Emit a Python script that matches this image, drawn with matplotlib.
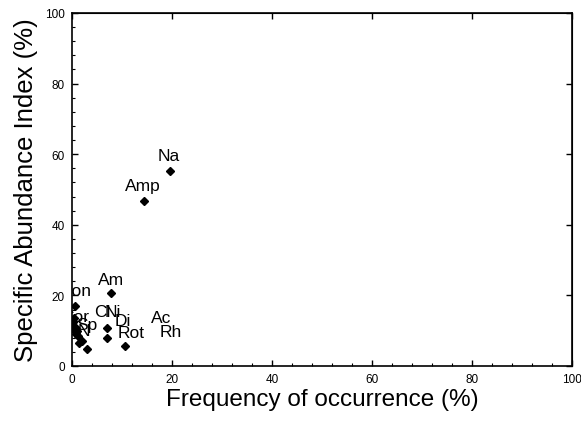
import matplotlib
matplotlib.use("Agg")
import matplotlib.pyplot as plt
from matplotlib.ticker import MultipleLocator

plt.rcParams['font.family'] = ['Liberation Sans', 'DejaVu Sans']

# Marker data (frequency of occurrence %, specific abundance index %)
freq = [19.6, 14.3, 7.8, 0.5, 6.9, 6.9, 10.6, 2.9, 2.0, 1.4,
        0.1, 0.6, 1.0, 0.8, 0.2, 1.2, 0.4]
abund = [55.3, 46.8, 20.6, 17.0, 10.7, 7.9, 5.7, 4.7, 7.1, 6.5,
         12.5, 11.0, 9.9, 9.1, 10.5, 8.4, 13.5]

# Labels and where they sit (data coordinates, baseline)
labels = ['Na', 'Amp', 'Am', 'Con', 'Cor', 'Sp', 'N', 'Cl', 'Ni', 'Di',
          'Rot', 'Ac', 'Rh']
label_x = [19.4, 14.1, 7.9, 0.6, 0.6, 3.0, 2.4, 6.1, 8.1, 10.1,
           11.8, 17.8, 19.8]
label_y = [58.4, 49.9, 23.2, 20.1, 12.7, 10.5, 8.8, 14.3, 14.3, 11.5,
           8.1, 12.4, 8.6]

xticks = [0, 20, 40, 60, 80, 100]
yticks = [0, 20, 40, 60, 80, 100]

fig = plt.figure(figsize=(5.81, 4.27), dpi=100)
ax = fig.add_axes([72/581, 60/427, 500/581, 353/427])

ax.plot(freq, abund, linestyle='none', marker='D', markersize=4.3,
        color='black', clip_on=True)

for t, lx, ly in zip(labels, label_x, label_y):
    ax.text(lx, ly, t, ha='center', va='baseline', fontsize=12.5,
            color='black', clip_on=True)

ax.set_xlim(0, 100)
ax.set_ylim(0, 100)
ax.set_xticks(xticks)
ax.set_yticks(yticks)
ax.xaxis.set_minor_locator(MultipleLocator(4))
ax.yaxis.set_minor_locator(MultipleLocator(4))
ax.tick_params(which='major', direction='in', length=4, width=1.0,
               labelsize=8.5, pad=5)
ax.tick_params(which='minor', direction='in', length=2, width=0.8)
for s in ax.spines.values():
    s.set_linewidth(1.2)

# top/right major ticks only
axt = ax.secondary_xaxis('top')
axt.set_xticks(xticks)
axt.tick_params(direction='in', length=4, width=1.0, labeltop=False)
axr = ax.secondary_yaxis('right')
axr.set_yticks(yticks)
axr.tick_params(direction='in', length=4, width=1.0, labelright=False)

ax.set_xlabel('Frequency of occurrence (%)', fontsize=17.5, labelpad=2)
ax.set_ylabel('Specific Abundance Index (%)', fontsize=18.5, labelpad=5)

fig.savefig('out.png', dpi=100)
